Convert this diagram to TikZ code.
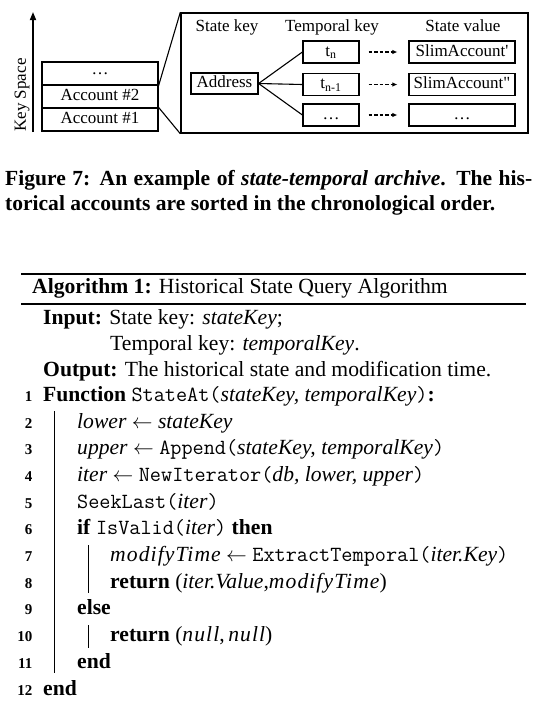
\documentclass[tikz,border=0pt]{standalone}
\usepackage{fontspec}
\setmainfont{Liberation Serif}
\newfontfamily\mvarfont[LetterSpace=5]{Liberation Serif}
\newfontfamily\qfont{Liberation Serif}
\usetikzlibrary{arrows.meta}
\newlength\fitw
\newcommand\fitfont[3]{%
  \settowidth\fitw{\fontsize{10pt}{12pt}\selectfont #3}%
  \pgfmathsetmacro#1{10*#2/\fitw}}
\newcommand\fn[1]{{\fontsize{\monofs pt}{\monofs pt}\selectfont\ttfamily #1}}
\newcommand\mv[1]{{\mvarfont\itshape #1}}
\tikzset{
  dfont/.style={font=\fontsize{17pt}{20pt}\selectfont},
  cell/.style={draw, line width=1.2pt, inner sep=0pt, dfont},
  strutted/.style={text height=11.5pt, text depth=3.5pt},
  conn/.style={line width=1.1pt},
  dasharrow/.style={line width=1.1pt, dash pattern=on 3.5pt off 2pt, -{Latex[length=5pt,width=4.5pt]}},
  lbl/.style={anchor=base, inner sep=0pt, dfont},
  algline/.style={anchor=base west, inner sep=0pt},
  lnum/.style={anchor=base east, inner sep=0pt, font=\fontsize{15pt}{18pt}\selectfont\bfseries},
  rule/.style={line width=1.4pt},
  bar/.style={line width=0.9pt}
}
\begin{document}
\fitfont{\capfs}{490}{\bfseries torical accounts are sorted in the chronological order.}%
\fitfont{\algfs}{448}{\textbf{Output:} The historical state and modification time.}%
\pgfmathsetmacro\monofs{1.0*\algfs}%
\begin{tikzpicture}[x=1pt,y=-1pt]
\useasboundingbox (0,0) rectangle (555,713);
% ---------- figure ----------
\coordinate (ka) at (33,132);
\coordinate (kb) at (33,12);
\draw[line width=1.6pt, -{Triangle[length=8pt,width=6pt]}] (ka) -- (kb);
\node[rotate=90, dfont, inner sep=0pt] (ks) at (22,95) {Key Space};
\node[cell, minimum width=116pt, minimum height=23pt] (s3) at (100,73.5) {\dots};
\node[cell, strutted, minimum width=116pt, minimum height=23pt] (s2) at (100,96.5) {Account \#2};
\node[cell, strutted, minimum width=116pt, minimum height=23pt] (s1) at (100,119.5) {Account \#1};
\node[draw, line width=1.4pt, minimum width=347pt, minimum height=120pt, inner sep=0pt] (big) at (354.5,73) {};
\draw[conn] (s3.south east) -- (big.north west);
\draw[conn] (s1.north east) -- (big.south west);
\node[lbl] (lsk) at (227,31) {State key};
\node[lbl] (ltk) at (332,31) {Temporal key};
\node[lbl] (lsv) at (463,31) {State value};
\node[cell, strutted, minimum width=67pt, minimum height=21pt] (addr) at (224.5,83.5) {Address};
\node[cell, strutted, minimum width=56pt, minimum height=22pt] (t1) at (331,52) {t\textsubscript{n}};
\node[cell, strutted, minimum width=56pt, minimum height=22pt] (t2) at (331,84.5) {t\textsubscript{n-1}};
\node[cell, strutted, minimum width=56pt, minimum height=22pt] (t3) at (331,115) {\dots};
\node[cell, strutted, minimum width=106pt, minimum height=22pt] (v1) at (462,52) {SlimAccount{\qfont '}};
\node[cell, strutted, minimum width=106pt, minimum height=22pt] (v2) at (462,84.5) {SlimAccount{\qfont "}};
\node[cell, strutted, minimum width=106pt, minimum height=22pt] (v3) at (462,115) {\dots};
\draw[conn] (addr.east) -- (t1.west);
\draw[conn] (addr.east) -- (t2.west);
\draw[conn] (addr.east) -- (t3.west);
\foreach \i in {1,2,3}{
  \draw[dasharrow] ([xshift=9pt]t\i.east) -- ([xshift=-11pt]v\i.west);
}
% ---------- caption ----------
\node[algline, font=\fontsize{\capfs pt}{\capfs pt}\selectfont\bfseries] (cap1) at (5,185)
  {\hbox to 527pt{Figure 7: An example of \textit{state-temporal archive}. The his-}};
\node[algline, font=\fontsize{\capfs pt}{\capfs pt}\selectfont\bfseries] (cap2) at (5,210)
  {torical accounts are sorted in the chronological order.};
% ---------- algorithm ----------
\tikzset{every node/.append style={font=\fontsize{\algfs pt}{\algfs pt}\selectfont}}
\draw[rule] (21,274) coordinate (r1a) -- (526,274) coordinate (r1b);
\draw[rule, line width=1.1pt] (21,304) coordinate (r2a) -- (526,304) coordinate (r2b);
\node[algline] (head) at (32,293) {\textbf{Algorithm 1:} Historical State Query Algorithm};
\node[algline] (in1) at (43,324) {\textbf{Input:} State key: \textit{stateKey};};
\node[algline] (in2) at (110,350) {Temporal key: \textit{temporalKey}.};
\node[algline] (out) at (43,376) {\textbf{Output:} The historical state and modification time.};
\def\lb#1{401.3+(#1-1)*26.7}
\foreach \n in {1,...,12}{
  \node[lnum] (n\n) at (32.5,{\lb{\n}}) {\n};
}
\node[algline] (c1) at (43,{\lb{1}}) {\textbf{Function} \fn{StateAt(}\textit{stateKey, temporalKey}\fn{)}\textbf{:}};
\node[algline] (c2) at (77,{\lb{2}}) {\textit{lower} $\leftarrow$ \textit{stateKey}};
\node[algline] (c3) at (77,{\lb{3}}) {\textit{upper} $\leftarrow$ \fn{Append(}\textit{stateKey, temporalKey}\fn{)}};
\node[algline] (c4) at (77,{\lb{4}}) {\textit{iter} $\leftarrow$ \fn{NewIterator(}\textit{db, lower, upper}\fn{)}};
\node[algline] (c5) at (77,{\lb{5}}) {\fn{SeekLast(}\textit{iter}\fn{)}};
\node[algline] (c6) at (77,{\lb{6}}) {\textbf{if} \fn{IsValid(}\textit{iter}\fn{)} \textbf{then}};
\node[algline] (c7) at (110,{\lb{7}}) {\mv{modifyTime} $\leftarrow$ \fn{ExtractTemporal(}\textit{iter.Key}\fn{)}};
\node[algline] (c8) at (110,{\lb{8}}) {\textbf{return} (\textit{iter.Value},\mv{modifyTime})};
\node[algline] (c9) at (77,{\lb{9}}) {\textbf{else}};
\node[algline] (c10) at (110,{\lb{10}}) {\textbf{return} (\mv{null},\,\mv{null})};
\node[algline] (c11) at (77,{\lb{11}}) {\textbf{end}};
\node[algline] (c12) at (43,{\lb{12}}) {\textbf{end}};
\draw[bar] (54,411) coordinate (b1a) -- (54,673) coordinate (b1b);
\draw[bar] (88,545) coordinate (b2a) -- (88,593) coordinate (b2b);
\draw[bar] (88,625) coordinate (b3a) -- (88,648) coordinate (b3b);
\end{tikzpicture}
\end{document}
